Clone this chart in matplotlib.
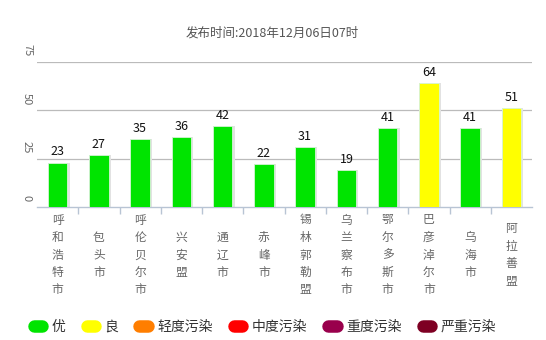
import matplotlib
matplotlib.use("Agg")
import matplotlib.pyplot as plt
import matplotlib.transforms as mtransforms
from matplotlib.lines import Line2D

plt.rcParams['font.family'] = ['Noto Sans CJK SC', 'DejaVu Sans']

# 数据
cities = ["呼和浩特市", "包头市", "呼伦贝尔市", "兴安盟", "通辽市", "赤峰市",
          "锡林郭勒盟", "乌兰察布市", "鄂尔多斯市", "巴彦淖尔市", "乌海市", "阿拉善盟"]
aqi = [23, 27, 35, 36, 42, 22, 31, 19, 41, 64, 41, 51]
levels = ["优", "良", "轻度污染", "中度污染", "重度污染", "严重污染"]
level_colors = ["#00e400", "#ffff00", "#ff7e00", "#ff0000", "#99004c", "#7e0023"]
level_limits = [50, 100, 150, 200, 300, 500]
yticks = [0, 25, 50, 75]
title = "发布时间:2018年12月06日07时"


def level_color(v):
    for lim, c in zip(level_limits, level_colors):
        if v <= lim:
            return c
    return level_colors[-1]


bar_colors = [level_color(v) for v in aqi]

fig = plt.figure(figsize=(5.46, 3.40), dpi=100)
ax = fig.add_axes([37 / 546, 133 / 340, 495 / 546, 145 / 340])

x = list(range(len(cities)))
# sombra suave de las barras
ax.bar([i + 0.03 for i in x], aqi, width=0.52, color="#e2e2e2", zorder=2)
ax.bar(x, aqi, width=0.47, color=bar_colors, edgecolor="#d8f5d8", linewidth=0.6, zorder=3)

for i, v in zip(x, aqi):
    ax.annotate(str(v), (i, v), xytext=(0, 3), textcoords="offset points",
                ha="center", va="bottom", fontsize=9, color="#111111", zorder=4)

ax.set_xlim(-0.5, len(cities) - 0.5)
ax.set_ylim(0, 75)

for t in yticks[1:]:
    ax.axhline(t, color="#bbbbbb", lw=0.9, zorder=1)

for s in ["top", "right", "left"]:
    ax.spines[s].set_visible(False)
ax.spines["bottom"].set_color("#b8c4d4")
ax.spines["bottom"].set_linewidth(1)

ax.set_yticks([])
ax.set_xticks([i - 0.5 for i in range(1, len(cities))])
ax.set_xticklabels([])
ax.tick_params(axis="x", length=5, width=1, color="#b8c4d4", direction="out")

# y labels rotados
ylab_tr = ax.get_yaxis_transform() + mtransforms.ScaledTranslation(0, 4 / 72, fig.dpi_scale_trans)
for t in yticks:
    ax.text(-10 / 495, t, str(t), transform=ylab_tr, rotation=-90,
            ha="center", va="bottom", fontsize=8, color="#666666")

# x labels verticales
xlab_tr = ax.get_xaxis_transform() + mtransforms.ScaledTranslation(0, -48 / 100, fig.dpi_scale_trans)
for i, name in zip(x, cities):
    ax.text(i, 0, "\n".join(name), transform=xlab_tr, ha="center", va="center",
            fontsize=8.5, color="#666666", linespacing=1.45)

fig.text(272 / 546, 1 - 33 / 340, title, ha="center", va="center", fontsize=9, color="#555555")

handles = [Line2D([0], [0], color=c, lw=9, solid_capstyle="round") for c in level_colors]
fig.legend(handles, levels, loc="center", bbox_to_anchor=(265 / 546, 1 - 327 / 340),
           ncol=6, frameon=False, fontsize=10, handlelength=0.6, handletextpad=0.7,
           columnspacing=1.5, labelcolor="#333333")

fig.savefig("out.png", dpi=100)
